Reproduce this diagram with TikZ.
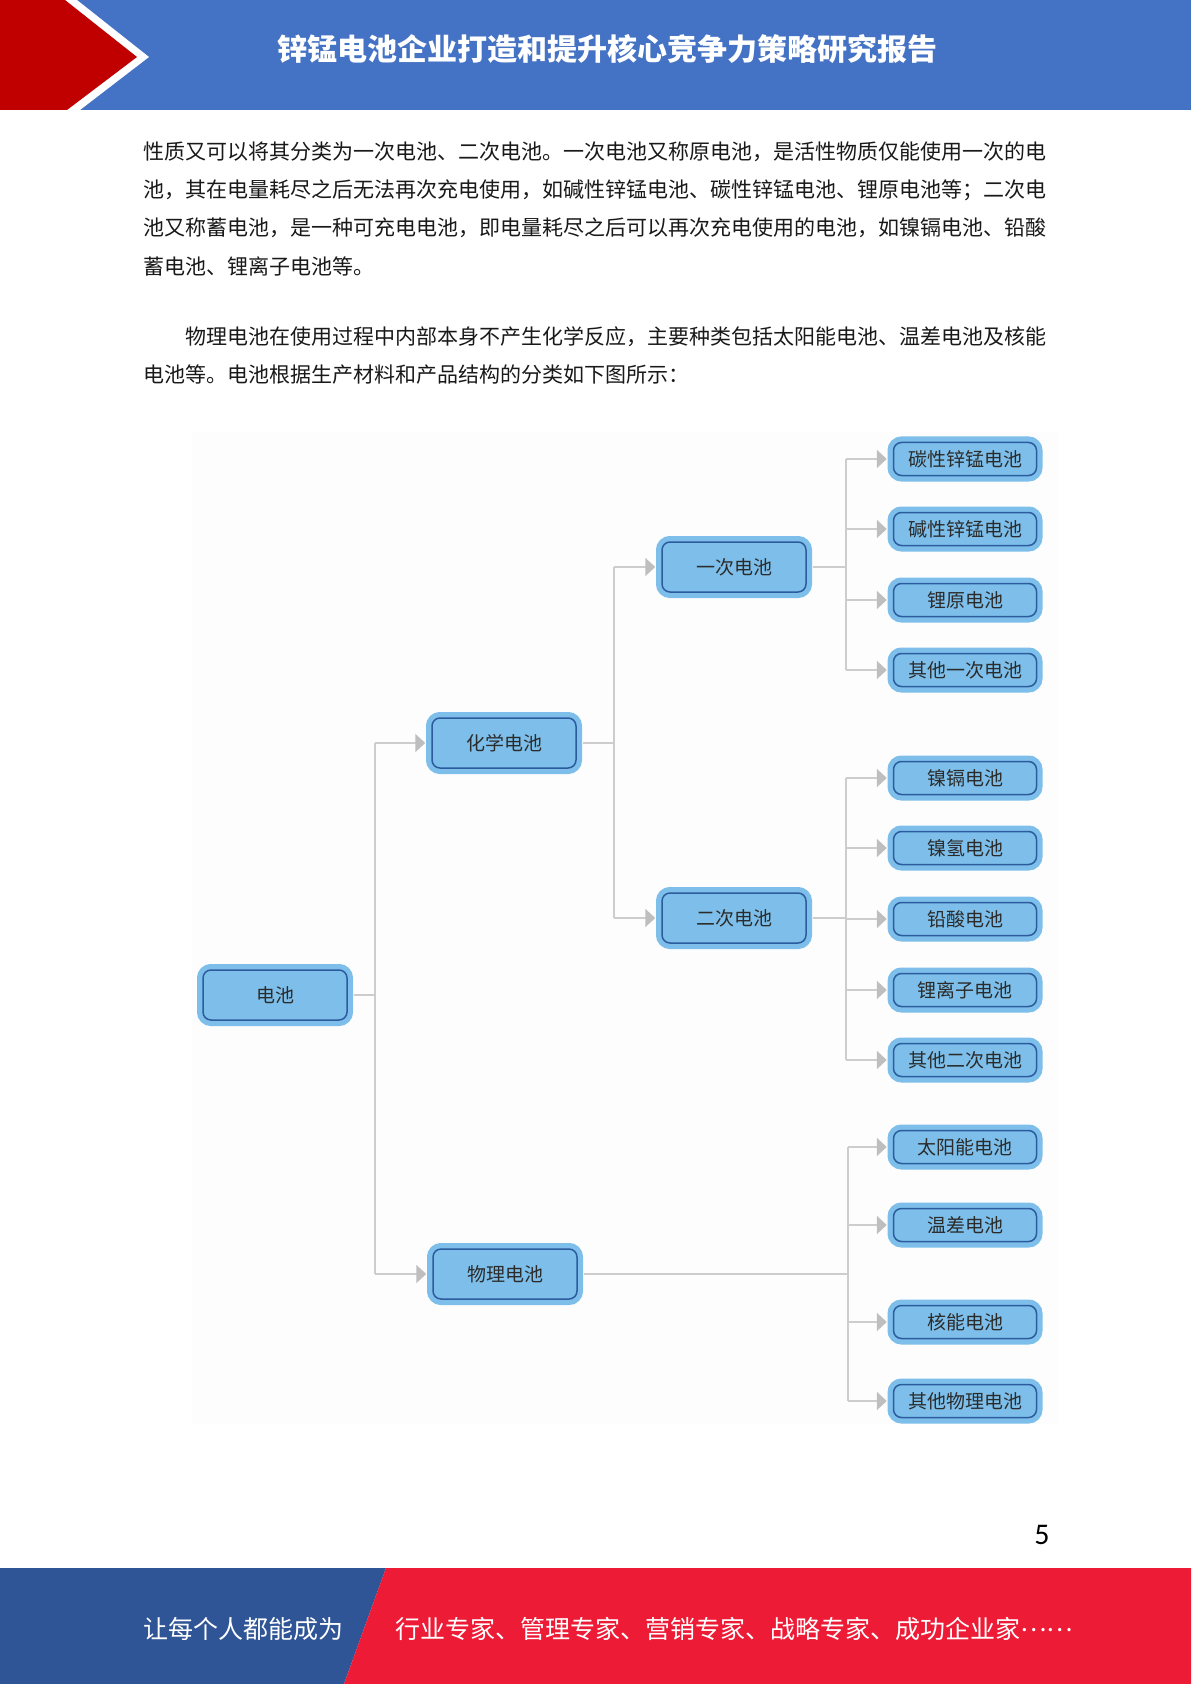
\documentclass[tikz,border=0pt]{standalone}
\usepackage{fontspec}
\setmainfont{Carlito}
\newfontfamily\cjk{Noto Sans CJK SC}
\usetikzlibrary{arrows.meta}
\definecolor{hblue}{HTML}{4472C4}
\definecolor{hred}{HTML}{C00000}
\definecolor{fblue}{HTML}{2F5597}
\definecolor{fred}{HTML}{EE1B36}
\definecolor{boxblue}{HTML}{7DBFEA}
\definecolor{bordblue}{HTML}{2D5C9E}
\definecolor{linegray}{HTML}{CDCDCD}
\definecolor{arrgray}{HTML}{BEBEBE}
\definecolor{txtgray}{HTML}{2B2B2B}
\definecolor{diagbg}{HTML}{FDFDFD}
\begin{document}
\begin{tikzpicture}[x=0.5pt,y=-0.5pt,
  bx/.style={rounded corners=4pt, fill=boxblue, draw=bordblue, line width=0.75pt,
    preaction={draw=boxblue, line width=6pt},
    font=\cjk\fontsize{9.5pt}{11pt}\selectfont, text=txtgray, inner sep=0pt, align=center},
  mainbx/.style={bx, minimum width=72pt, minimum height=25pt},
  leafbx/.style={bx, minimum width=71.5pt, minimum height=16.5pt},
  ln/.style={draw=linegray, line width=1pt},
  arr/.style={draw=linegray, line width=1pt, -{Triangle[length=5pt,width=9pt,color=arrgray]}, shorten >=3pt},
  body/.style={font=\cjk\fontsize{10.5pt}{12pt}\selectfont, anchor=west, inner sep=0pt, text=black!90},
  foot/.style={font=\cjk\fontsize{12.5pt}{14pt}\selectfont, anchor=west, inner sep=0pt, text=white}
]
\useasboundingbox (0,0) rectangle (1191,1684);
\fill[white] (0,0) rectangle (1191,1684);
% header
\fill[hblue] (0,0) rectangle (1191,110);
\fill[white] (0,0) -- (77,0) -- (149,57) -- (80,110) -- (0,110) -- cycle;
\fill[hred] (0,0) -- (65,0) -- (137,57) -- (67,110) -- (0,110) -- cycle;
\node[font=\cjk\bfseries\fontsize{15pt}{17pt}\selectfont, text=white, inner sep=0pt] (title) at (607,49) {锌锰电池企业打造和提升核心竞争力策略研究报告};
% body text
\node[body] (t1) at (143,152) {性质又可以将其分类为一次电池、二次电池。一次电池又称原电池，是活性物质仅能使用一次的电};
\node[body] (t2) at (143,190) {池，其在电量耗尽之后无法再次充电使用，如碱性锌锰电池、碳性锌锰电池、锂原电池等；二次电};
\node[body] (t3) at (143,228) {池又称蓄电池，是一种可充电电池，即电量耗尽之后可以再次充电使用的电池，如镍镉电池、铅酸};
\node[body] (t4) at (143,266) {蓄电池、锂离子电池等。};
\node[body] (t5) at (185,337) {物理电池在使用过程中内部本身不产生化学反应，主要种类包括太阳能电池、温差电池及核能};
\node[body] (t6) at (143,375) {电池等。电池根据生产材料和产品结构的分类如下图所示：};
% diagram background
\fill[diagbg] (192,432) rectangle (1058,1424);
% nodes
\node[mainbx] (root) at (275,995) {电池};
\node[mainbx] (chem) at (504,743) {化学电池};
\node[mainbx] (phys) at (505,1274) {物理电池};
\node[mainbx] (prim) at (734,567) {一次电池};
\node[mainbx] (sec) at (734,918) {二次电池};
\node[leafbx] (p1) at (965,459) {碳性锌锰电池};
\node[leafbx] (p2) at (965,529) {碱性锌锰电池};
\node[leafbx] (p3) at (965,600) {锂原电池};
\node[leafbx] (p4) at (965,670) {其他一次电池};
\node[leafbx] (s1) at (965,778) {镍镉电池};
\node[leafbx] (s2) at (965,848) {镍氢电池};
\node[leafbx] (s3) at (965,919) {铅酸电池};
\node[leafbx] (s4) at (965,990) {锂离子电池};
\node[leafbx] (s5) at (965,1060) {其他二次电池};
\node[leafbx] (h1) at (965,1147) {太阳能电池};
\node[leafbx] (h2) at (965,1225) {温差电池};
\node[leafbx] (h3) at (965,1322) {核能电池};
\node[leafbx] (h4) at (965,1401) {其他物理电池};
% bus coordinates
\coordinate (b0) at (375,995);
\coordinate (b1) at (614,743);
\coordinate (b2) at (846,567);
\coordinate (b3) at (846,918);
\coordinate (b4) at (848,1274);
% connectors
\draw[ln] ([xshift=3pt]root.east) -- (b0);
\draw[ln] (b0 |- chem.west) -- (b0 |- phys.west);
\draw[arr] (b0 |- chem.west) -- (chem.west);
\draw[arr] (b0 |- phys.west) -- (phys.west);
\draw[ln] ([xshift=3pt]chem.east) -- (b1);
\draw[ln] (b1 |- prim.west) -- (b1 |- sec.west);
\draw[arr] (b1 |- prim.west) -- (prim.west);
\draw[arr] (b1 |- sec.west) -- (sec.west);
\draw[ln] ([xshift=3pt]prim.east) -- (b2);
\draw[ln] (b2 |- p1.west) -- (b2 |- p4.west);
\foreach \n in {p1,p2,p3,p4} \draw[arr] (b2 |- \n.west) -- (\n.west);
\draw[ln] ([xshift=3pt]sec.east) -- (b3);
\draw[ln] (b3 |- s1.west) -- (b3 |- s5.west);
\foreach \n in {s1,s2,s3,s4,s5} \draw[arr] (b3 |- \n.west) -- (\n.west);
\draw[ln] ([xshift=3pt]phys.east) -- (b4);
\draw[ln] (b4 |- h1.west) -- (b4 |- h4.west);
\foreach \n in {h1,h2,h3,h4} \draw[arr] (b4 |- \n.west) -- (\n.west);
% page number
\node[font=\fontsize{15pt}{17pt}\selectfont, inner sep=0pt] (pg) at (1042,1535) {5};
% footer
\fill[fblue] (0,1568) -- (386,1568) -- (344,1684) -- (0,1684) -- cycle;
\fill[fred] (386,1568) -- (1191,1568) -- (1191,1684) -- (344,1684) -- cycle;
\node[foot] (f1) at (143,1629) {让每个人都能成为};
\node[foot] (f2) at (395,1629) {行业专家、管理专家、营销专家、战略专家、成功企业家\raisebox{0.3em}{……}};
\end{tikzpicture}
\end{document}
